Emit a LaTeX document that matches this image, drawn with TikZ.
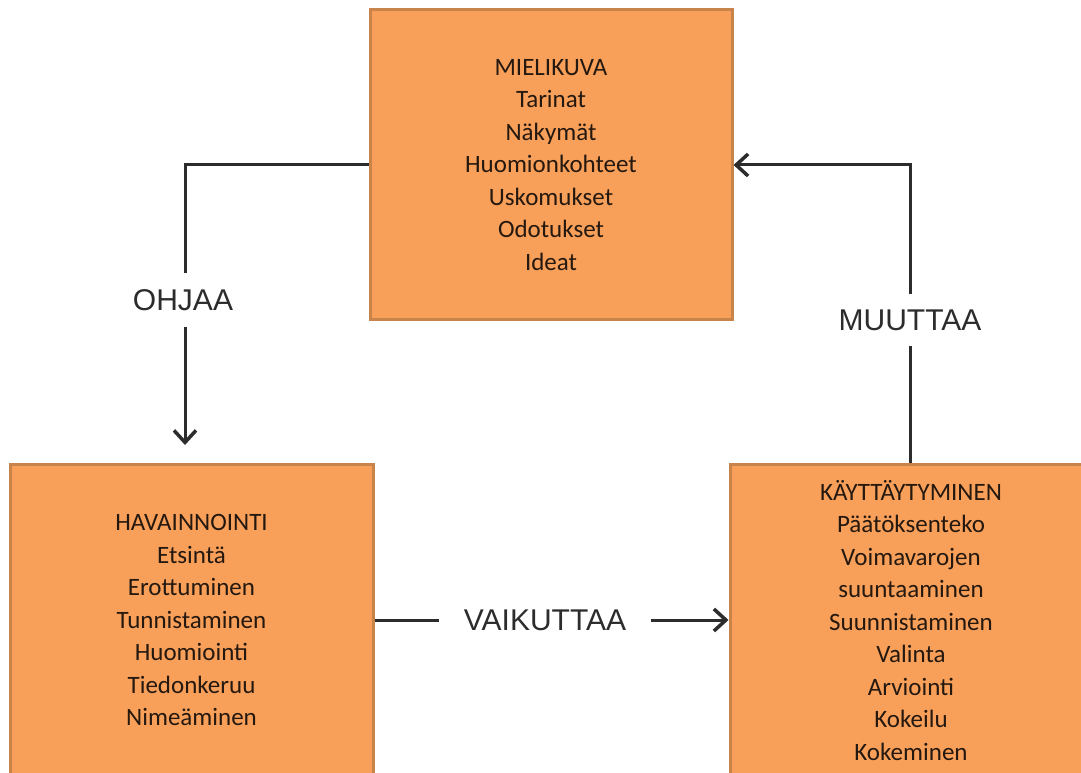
\documentclass[tikz,border=0pt]{standalone}
\usepackage{fontspec}
\setmainfont{Carlito}
\newfontfamily\labelfont{Liberation Sans}
\usetikzlibrary{arrows.meta}
\definecolor{boxfill}{HTML}{F8A05A}
\definecolor{boxedge}{HTML}{C8844A}
\definecolor{boxtext}{HTML}{24180F}
\definecolor{wire}{HTML}{2C2C2C}
\begin{document}
\begin{tikzpicture}[x=1pt,y=1pt,
  block/.style={draw=boxedge, line width=3pt, fill=boxfill, text=boxtext,
    align=center, minimum width=362pt, inner sep=0pt,
    font=\fontsize{25}{32.5}\selectfont},
  wirestyle/.style={draw=wire, line width=3pt,
    -{Straight Barb[length=12pt,width=22pt,line width=3.5pt]}},
  verb/.style={fill=white, text=wire, font=\labelfont\fontsize{30}{30}\selectfont,
    inner xsep=6pt, inner ysep=16pt}]
\useasboundingbox (0,0) rectangle (1081,772);

% the three stages
\node[block, minimum height=310pt] (mieli) at (551,607)
  {MIELIKUVA\\Tarinat\\Näkymät\\Huomionkohteet\\Uskomukset\\Odotukset\\Ideat};
\node[block, minimum width=363pt, minimum height=312pt] (havain) at (191.5,152)
  {HAVAINNOINTI\\Etsintä\\Erottuminen\\Tunnistaminen\\Huomiointi\\Tiedonkeruu\\Nimeäminen};
\node[block, minimum width=362pt, minimum height=313pt] (kaytt) at (911,151.5)
  {KÄYTTÄYTYMINEN\\Päätöksenteko\\Voimavarojen\\suuntaaminen\\Suunnistaminen\\Valinta\\Arviointi\\Kokeilu\\Kokeminen};

% connectors
\coordinate (ohjaaEnd) at (185,327);
\draw[wirestyle] (mieli.west) -| (ohjaaEnd);
\draw[wirestyle] (kaytt.north -| 910,0) |- (mieli.east);
\draw[wirestyle] (havain.east |- 0,152) -- (kaytt.west |- 0,152);

% connector labels
\node[verb] (ohjaa) at (183,472) {OHJAA};
\node[verb] (muuttaa) at (910,452) {MUUTTAA};
\node[verb, inner xsep=25pt, inner ysep=8pt] (vaikuttaa) at (545,152) {VAIKUTTAA};
\end{tikzpicture}
\end{document}
